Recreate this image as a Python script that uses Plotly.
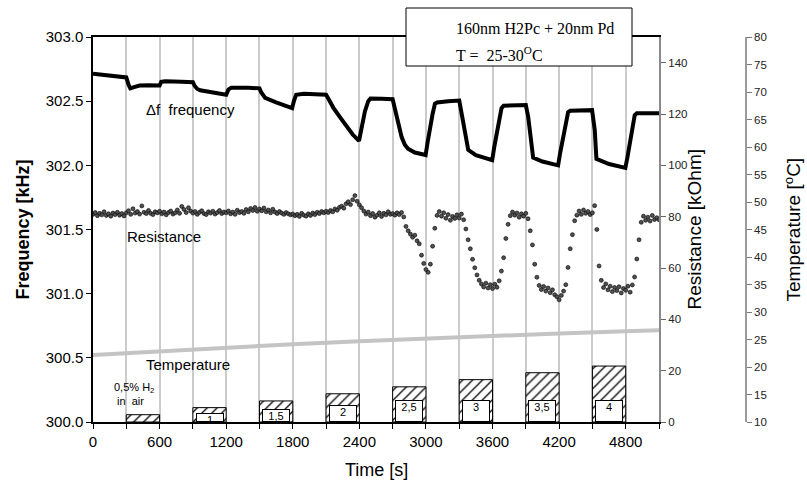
import plotly.graph_objects as go

# ---------------- data ----------------
# Frequency response (kHz) vs time (s)
freq_t = [0, 150, 290, 300, 320, 336, 370, 420, 500, 600, 615, 650, 800, 900, 915, 940, 966, 1050, 1200,
          1220, 1245, 1400, 1500, 1515, 1551, 1650, 1794, 1810, 1830, 1900, 2100, 2120, 2165, 2230, 2286,
          2340, 2397, 2420, 2450, 2480, 2500, 2600, 2700, 2715, 2736, 2760, 2781, 2810, 2838, 2900, 2997,
          3015, 3036, 3060, 3081, 3100, 3200, 3300, 3318, 3336, 3360, 3381, 3450, 3597, 3615, 3636, 3660,
          3681, 3700, 3800, 3900, 3921, 3940, 3966, 4050, 4191, 4210, 4236, 4260, 4281, 4300, 4400, 4497,
          4521, 4536, 4650, 4797, 4815, 4836, 4860, 4881, 4900, 5000, 5100]
freq_khz = [302.713, 302.70, 302.69, 302.685, 302.63, 302.60, 302.61, 302.622, 302.625, 302.622, 302.65,
            302.655, 302.652, 302.648, 302.62, 302.595, 302.585, 302.57, 302.55,
            302.59, 302.605, 302.605, 302.60, 302.57, 302.525, 302.49, 302.445, 302.50, 302.55, 302.557,
            302.55, 302.52, 302.45, 302.37, 302.30,
            302.24, 302.19, 302.30, 302.42, 302.50, 302.52, 302.518, 302.515, 302.46, 302.38, 302.29,
            302.22, 302.16, 302.13, 302.10, 302.08,
            302.18, 302.30, 302.40, 302.48, 302.49, 302.50, 302.505, 302.42, 302.33, 302.20, 302.12,
            302.08, 302.04, 302.14, 302.25, 302.37,
            302.445, 302.465, 302.47, 302.47, 302.38, 302.22, 302.06, 302.03, 302.00, 302.10, 302.22,
            302.34, 302.414, 302.425, 302.43, 302.43,
            302.276, 302.05, 302.01, 301.98, 302.06, 302.17, 302.29, 302.39, 302.405, 302.405, 302.405]

# Resistance (kOhm), one reading every 20 s starting at t = 0
res_step_s = 20
res_kohm = [
    80.9, 81.6, 80.4, 81.3, 80.7, 81.9, 80.5, 81.1, 80.2, 81.4, 80.8, 81.7, 80.6, 81.2, 80.3,
    81.5, 82.3, 80.9, 83.1, 81.4, 82.0, 81.0, 84.2, 81.7, 81.2, 82.4, 81.3, 80.8, 81.9, 81.5,
    82.1, 81.1, 81.8, 80.7, 81.6, 82.2, 81.0, 81.5, 82.6, 81.3, 84.0, 82.8, 81.6, 83.5, 82.2,
    81.4, 82.0, 80.9, 81.7, 82.3, 81.2, 80.8, 81.9, 81.4, 82.1, 81.0, 81.6, 82.4, 81.2, 81.8,
    81.5, 82.2, 81.1, 81.8, 80.9, 82.5, 81.6, 82.0, 81.3, 82.8, 81.9, 83.2, 82.4, 83.6, 82.1,
    83.0, 82.3, 83.4, 81.9, 82.6, 81.5, 82.9, 81.8, 81.2, 82.0, 81.4, 80.9, 81.6, 81.1, 80.7,
    81.0, 80.4, 80.9, 80.1, 81.3, 80.6, 80.2, 81.1, 80.5, 81.4, 80.8, 81.7, 81.2, 82.0, 81.5,
    82.1, 81.6, 82.4, 81.9, 83.0, 82.5, 83.6, 84.1, 83.3, 85.0, 85.8, 84.7, 86.6, 88.2, 86.0,
    84.6, 83.5, 82.2, 81.0, 81.8, 80.4, 81.2, 79.8, 80.6, 81.5, 80.1, 81.3, 80.7, 81.9, 80.9,
    81.2, 80.6, 81.5, 80.8, 81.6, 79.9, 76.2, 74.5, 73.2, 72.0, 72.8, 70.6, 69.4, 65.0, 61.8,
    59.4, 58.3, 61.5, 68.5, 75.5, 80.5, 82.0, 80.2, 81.5, 79.4, 80.8, 78.6, 80.1, 79.3, 80.7,
    79.5, 81.0, 78.8, 75.2, 71.0, 67.5, 63.4, 60.1, 57.3, 55.2, 53.8, 52.6, 54.1, 52.2, 53.5,
    52.0, 53.7, 52.5, 55.0, 58.8, 64.0, 71.5, 77.0, 80.4, 81.8, 80.6, 81.4, 79.8, 81.1, 80.2,
    81.3, 79.2, 74.5, 69.0, 61.5, 56.4, 53.2, 51.6, 52.8, 51.0, 52.2, 50.4, 51.5, 49.6, 48.8,
    47.6, 49.3, 51.0, 53.5, 60.2, 67.5, 73.0, 78.4, 80.6, 82.2, 80.9, 82.6, 81.3, 82.0, 80.8,
    81.5, 84.3, 75.0, 60.8, 55.2, 52.4, 53.8, 51.5, 52.9, 50.8, 52.4, 51.2, 52.7, 50.3, 52.0,
    51.3, 52.9, 50.6, 53.4, 56.5, 63.5, 71.0, 77.8, 80.2, 78.6, 79.8, 78.3, 80.5, 78.9, 79.6,
    78.8]
res_t = [i * res_step_s for i in range(len(res_kohm))]

# Temperature (deg C)
temp_t = [0, 600, 1200, 1800, 2400, 3000, 3600, 4200, 4800, 5100]
temp_c = [22.2, 22.9, 23.55, 24.15, 24.7, 25.2, 25.7, 26.1, 26.5, 26.7]

# H2 pulses (drawn on the resistance scale)
pulse_mid = [450, 1050, 1650, 2250, 2850, 3450, 4050, 4650]
pulse_width = 300
pulse_height = [2.85, 5.6, 8.2, 11.0, 13.7, 16.5, 19.2, 21.8]
pulse_labels = ["", "1", "1,5", "2", "2,5", "3", "3,5", "4"]

x_ticks = [0, 600, 1200, 1800, 2400, 3000, 3600, 4200, 4800]
res_ticks = [0, 20, 40, 60, 80, 100, 120, 140]
temp_ticks = [10, 15, 20, 25, 30, 35, 40, 45, 50, 55, 60, 65, 70, 75, 80]

# ---------------- layout geometry ----------------
W, H = 807, 486
ML, MR, MT, MB = 93, 40, 37, 64
PW = W - ML - MR
PH = H - MT - MB
def px(xp):
    return (xp - ML) / PW
def py(yp):
    return (H - MB - yp) / PH

SANS = "Liberation Sans, Arial, sans-serif"
SERIF = "Liberation Serif, Times New Roman, serif"

fig = go.Figure()

fig.add_trace(go.Bar(
    x=pulse_mid, y=pulse_height, width=pulse_width, yaxis="y2",
    marker=dict(color="white", line=dict(color="black", width=1),
                pattern=dict(shape="/", fgcolor="black", fgopacity=1, bgcolor="white",
                             size=7, solidity=0.18)),
    showlegend=False, hoverinfo="skip"))

fig.add_trace(go.Scatter(
    x=temp_t, y=temp_c, yaxis="y3", mode="lines",
    line=dict(color="#c4c4c4", width=4), showlegend=False))

fig.add_trace(go.Scatter(
    x=res_t, y=res_kohm, yaxis="y2", mode="markers",
    marker=dict(size=4, color="#505050", line=dict(color="#000000", width=0.6)),
    showlegend=False))

fig.add_trace(go.Scatter(
    x=freq_t, y=freq_khz, yaxis="y", mode="lines",
    line=dict(color="black", width=4), showlegend=False))

annotations = []
# pulse label boxes
box_h = [0, 7, 11, 15, 20, 20, 20, 20]
for xm, lab, bh in zip(pulse_mid, pulse_labels, box_h):
    if not lab:
        continue
    annotations.append(dict(x=xm, y=0, xref="x", yref="y2", xanchor="center", yanchor="bottom",
                            text=lab, showarrow=False, width=26, height=bh, valign="top",
                            bgcolor="white", bordercolor="black", borderwidth=1, borderpad=0,
                            font=dict(family=SANS, size=11, color="black")))

C = dict(xanchor="center", yanchor="middle", showarrow=False)
annotations += [
    dict(x=876, y=302.4375, xref="x", yref="y", text="Δf&nbsp; frequency",
         font=dict(family=SANS, size=15, color="black"), **C),
    dict(x=637, y=301.448, xref="x", yref="y", text="Resistance",
         font=dict(family=SANS, size=15, color="black"), **C),
    dict(x=858, y=300.448, xref="x", yref="y", text="Temperature",
         font=dict(family=SANS, size=15, color="black"), **C),
    dict(x=175, y=300.22, xref="x", yref="y", xanchor="left", yanchor="middle", align="left",
         text="0,5% H<sub>2</sub><br> in&nbsp; air", showarrow=False,
         font=dict(family=SANS, size=11, color="black")),
    # axis titles
    dict(x=px(22), y=0.5, xref="paper", yref="paper", text="<b>Frequency [kHz]</b>", textangle=-90,
         font=dict(family=SANS, size=18, color="black"), **C),
    dict(x=px(376), y=py(470), xref="paper", yref="paper", text="Time [s]",
         font=dict(family=SANS, size=18, color="black"), **C),
    dict(x=px(694), y=0.5, xref="paper", yref="paper", text="Resistance [kOhm]", textangle=-90,
         font=dict(family=SANS, size=19, color="black"), **C),
    dict(x=px(792), y=0.5, xref="paper", yref="paper", text="Temperature [<sup>o</sup>C]", textangle=-90,
         font=dict(family=SANS, size=19, color="black"), **C),
    # info box text
    dict(x=px(454), y=py(29), xref="paper", yref="paper", xanchor="left", yanchor="middle",
         text="160nm H2Pc + 20nm Pd", showarrow=False,
         font=dict(family=SERIF, size=16, color="black")),
    dict(x=px(454), y=py(54), xref="paper", yref="paper", xanchor="left", yanchor="middle",
         text="T =&nbsp; 25-30<sup>O</sup>C", showarrow=False,
         font=dict(family=SERIF, size=16, color="black")),
]

shapes = [
    dict(type="rect", xref="paper", yref="paper", x0=px(406), x1=px(632), y0=py(66), y1=py(8),
         fillcolor="white", line=dict(color="black", width=1), layer="above"),
]

fig.update_layout(
    width=W, height=H, margin=dict(l=ML, r=MR, t=MT, b=MB, autoexpand=False),
    paper_bgcolor="white", plot_bgcolor="white",
    barmode="overlay", showlegend=False,
    xaxis=dict(domain=[0, px(659)], range=[0, 5100], tickvals=x_ticks, ticks="outside", ticklen=5,
               tickcolor="black", showline=True, linecolor="black", linewidth=1.5, mirror=True,
               showgrid=True, gridcolor="#cbcbcb", gridwidth=1.5, zeroline=False,
               minor=dict(dtick=300, tick0=0, showgrid=True, gridcolor="#cbcbcb", gridwidth=1.5,
                          ticks="outside", ticklen=5, tickcolor="black"),
               tickfont=dict(family=SANS, size=15, color="black")),
    yaxis=dict(range=[300, 303], dtick=0.5, tick0=300, tickformat=".1f", ticks="outside", ticklen=5,
               tickcolor="black", showline=True, linecolor="black", linewidth=1.5, showgrid=False,
               zeroline=False, tickfont=dict(family=SANS, size=15, color="black")),
    yaxis2=dict(overlaying="y", side="right", anchor="x", range=[0, 150], tickvals=res_ticks,
                ticks="outside", ticklen=5, tickcolor="#666", showline=True, linecolor="#8a8a8a",
                linewidth=2, showgrid=False, zeroline=False,
                tickfont=dict(family=SANS, size=11.5, color="#222")),
    yaxis3=dict(overlaying="y", side="right", anchor="free", position=px(746), range=[10, 80],
                tickvals=temp_ticks, ticks="outside", ticklen=5, tickcolor="#777", showline=True,
                linecolor="#9a9a9a", linewidth=1.5, showgrid=False, zeroline=False,
                tickfont=dict(family=SANS, size=11.5, color="#222")),
    annotations=annotations, shapes=shapes,
)

fig.write_html("out.html", config={"displayModeBar": False},
               post_script="document.body.style.margin='0px';document.body.style.overflow='hidden';")
